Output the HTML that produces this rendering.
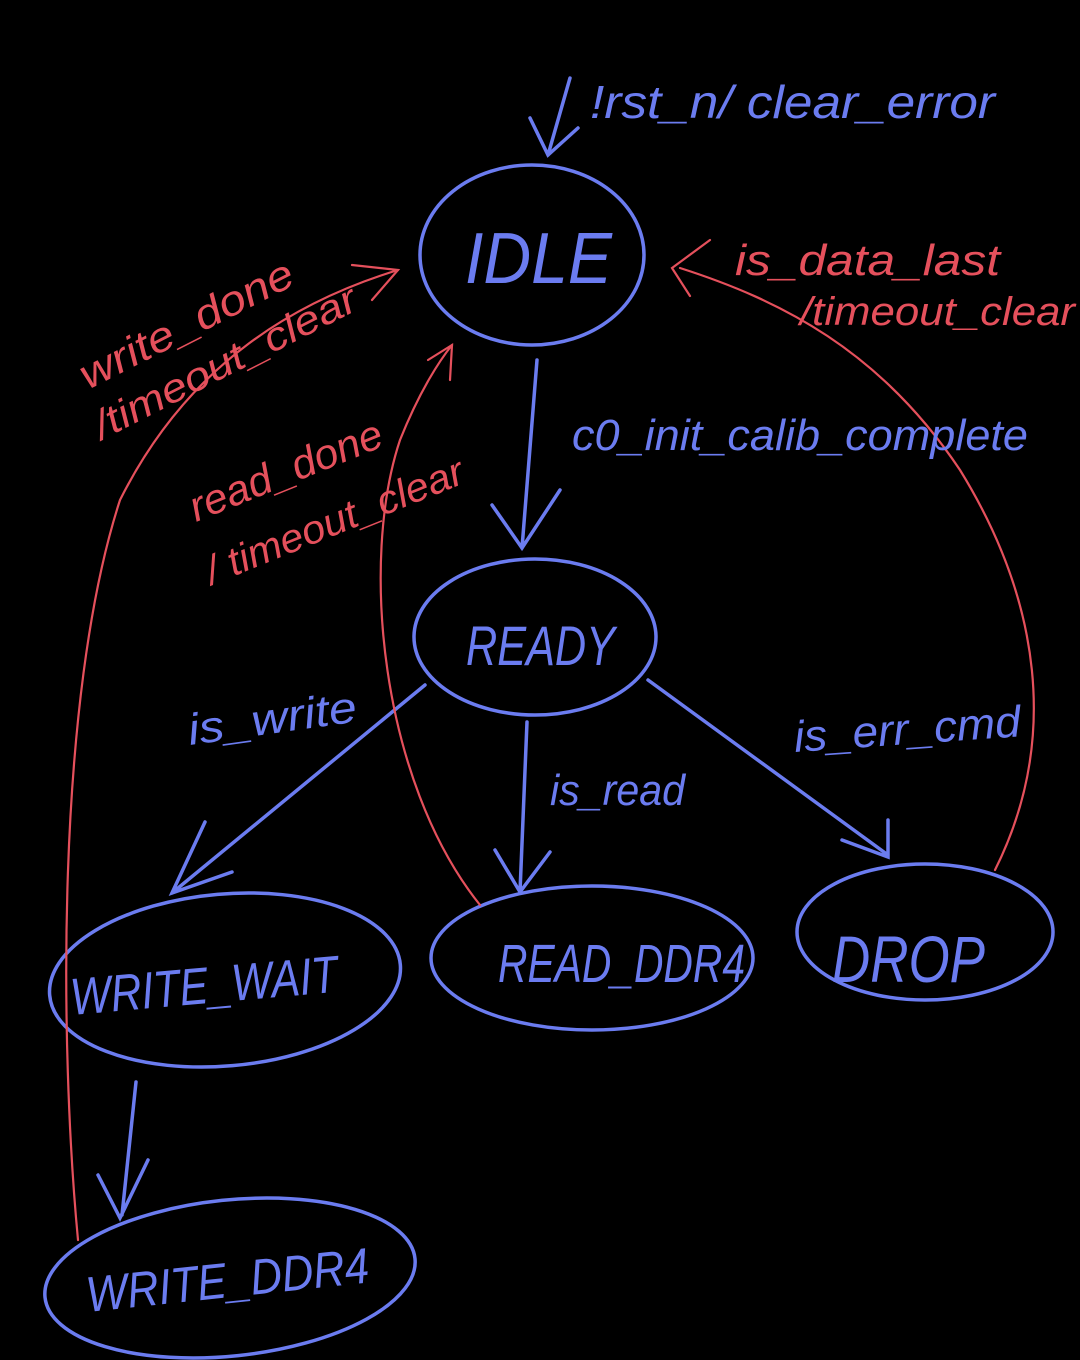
<!DOCTYPE html>
<html><head><meta charset="utf-8"><style>
html,body{margin:0;padding:0;background:#000;}
svg{display:block}
text{font-family:"Liberation Sans",sans-serif;}
</style></head><body>
<svg width="1080" height="1360" viewBox="0 0 1080 1360" xmlns="http://www.w3.org/2000/svg">
<rect width="1080" height="1360" fill="#000"/>
<g fill="none" stroke="#6b7cf0" stroke-width="3.5" stroke-linecap="round">
  <ellipse cx="532" cy="255" rx="112" ry="90"/>
  <ellipse cx="535" cy="637" rx="121" ry="78"/>
  <ellipse cx="225" cy="980" rx="176" ry="86" transform="rotate(-5 225 980)"/>
  <ellipse cx="592" cy="958" rx="161" ry="72"/>
  <ellipse cx="925" cy="932" rx="128" ry="68"/>
  <ellipse cx="230" cy="1278" rx="186" ry="78" transform="rotate(-6 230 1278)"/>
  <path d="M570 78 L548 155 M530 118 L548 155 L578 128"/>
  <path d="M537 360 L522 548 M492 505 L522 548 L560 490"/>
  <path d="M425 685 L172 893 M205 822 L172 893 L232 872"/>
  <path d="M527 722 L520 892 M495 850 L520 892 L550 852"/>
  <path d="M648 680 L888 855 M888 820 L888 857 L842 840"/>
  <path d="M136 1082 L122 1215 M98 1175 L120 1218 L148 1160"/>
</g>
<g fill="none" stroke="#e5505c" stroke-width="2.2" stroke-linecap="round">
  <path d="M78 1240 C60 1050 55 700 120 500 C190 360 300 300 398 270"/>
  <path d="M352 265 L398 270 L372 300"/>
  <path d="M480 905 C380 780 360 560 400 440 C420 390 440 360 452 345"/>
  <path d="M428 360 L452 345 L450 380"/>
  <path d="M995 870 C1060 740 1040 600 960 470 C880 350 780 300 680 268"/>
  <path d="M710 240 L672 268 L690 296"/>
</g>
<g fill="#6b7cf0" font-style="italic">
  <text x="465" y="283" font-size="72" textLength="147" lengthAdjust="spacingAndGlyphs">IDLE</text>
  <text x="466" y="665" font-size="56" textLength="149" lengthAdjust="spacingAndGlyphs">READY</text>
  <text x="72" y="1015" font-size="52" textLength="268" lengthAdjust="spacingAndGlyphs" transform="rotate(-5 72 1015)">WRITE_WAIT</text>
  <text x="498" y="982" font-size="54" textLength="247" lengthAdjust="spacingAndGlyphs">READ_DDR4</text>
  <text x="832" y="982" font-size="66" textLength="153" lengthAdjust="spacingAndGlyphs">DROP</text>
  <text x="88" y="1312" font-size="50" textLength="284" lengthAdjust="spacingAndGlyphs" transform="rotate(-6 88 1312)">WRITE_DDR4</text>
  <text x="590" y="118" font-size="46" textLength="405" lengthAdjust="spacingAndGlyphs">!rst_n/ clear_error</text>
  <text x="572" y="450" font-size="44" textLength="456" lengthAdjust="spacingAndGlyphs">c0_init_calib_complete</text>
  <text x="190" y="745" font-size="44" textLength="170" lengthAdjust="spacingAndGlyphs" transform="rotate(-8 190 745)">is_write</text>
  <text x="550" y="805" font-size="44" textLength="135" lengthAdjust="spacingAndGlyphs">is_read</text>
  <text x="795" y="752" font-size="44" textLength="227" lengthAdjust="spacingAndGlyphs" transform="rotate(-4 795 752)">is_err_cmd</text>
</g>
<g fill="#e5505c" font-style="italic">
  <text x="88" y="390" font-size="42" textLength="235" lengthAdjust="spacingAndGlyphs" transform="rotate(-27 88 390)">write_done</text>
  <text x="102" y="440" font-size="40" textLength="290" lengthAdjust="spacingAndGlyphs" transform="rotate(-27 102 440)">/timeout_clear</text>
  <text x="196" y="522" font-size="42" textLength="205" lengthAdjust="spacingAndGlyphs" transform="rotate(-22 196 522)">read_done</text>
  <text x="212" y="585" font-size="40" textLength="275" lengthAdjust="spacingAndGlyphs" transform="rotate(-22 212 585)">/ timeout_clear</text>
  <text x="735" y="275" font-size="44" textLength="265" lengthAdjust="spacingAndGlyphs">is_data_last</text>
  <text x="800" y="325" font-size="40" textLength="275" lengthAdjust="spacingAndGlyphs">/timeout_clear</text>
</g>
</svg>
</body></html>
